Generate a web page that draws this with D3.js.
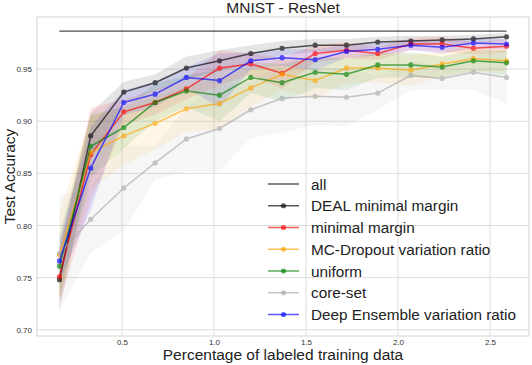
<!DOCTYPE html>
<html>
<head>
<meta charset="utf-8">
<script src="https://cdn.jsdelivr.net/npm/d3@7"></script>
<style>
  body { margin: 0; background: #fff; }
  svg { font-family: "Liberation Sans", Arial, sans-serif; }
</style>
</head>
<body>
<svg id="chart" width="532" height="365"></svg>
<script>
// fraction of labeled training data (%)
const percent = [0.16, 0.33, 0.51, 0.68, 0.85, 1.03, 1.20, 1.37, 1.55, 1.72, 1.89, 2.07, 2.24, 2.41, 2.59];

const allAcc = 0.9865;

const dealMean = [0.748, 0.886, 0.928, 0.937, 0.951, 0.958, 0.965, 0.970, 0.973, 0.973, 0.976, 0.977, 0.978, 0.979, 0.981];
const dealStd = [0.030, 0.022, 0.010, 0.008, 0.011, 0.010, 0.008, 0.007, 0.006, 0.006, 0.005, 0.005, 0.004, 0.004, 0.004];

const marginMean = [0.751, 0.868, 0.909, 0.918, 0.931, 0.951, 0.955, 0.946, 0.965, 0.968, 0.965, 0.974, 0.974, 0.970, 0.972];
const marginStd = [0.025, 0.045, 0.012, 0.012, 0.010, 0.017, 0.010, 0.015, 0.008, 0.008, 0.006, 0.006, 0.007, 0.006, 0.006];

const dropoutMean = [0.772, 0.870, 0.886, 0.898, 0.912, 0.917, 0.932, 0.945, 0.939, 0.951, 0.951, 0.949, 0.955, 0.960, 0.958];
const dropoutStd = [0.040, 0.035, 0.028, 0.025, 0.022, 0.025, 0.018, 0.015, 0.018, 0.014, 0.014, 0.015, 0.012, 0.012, 0.010];

const uniformMean = [0.761, 0.876, 0.894, 0.918, 0.929, 0.925, 0.942, 0.937, 0.947, 0.945, 0.954, 0.954, 0.952, 0.958, 0.956];
const uniformStd = [0.030, 0.030, 0.020, 0.018, 0.015, 0.025, 0.015, 0.018, 0.015, 0.015, 0.012, 0.012, 0.010, 0.010, 0.012];

const coresetMean = [0.773, 0.806, 0.836, 0.860, 0.883, 0.893, 0.911, 0.922, 0.924, 0.923, 0.927, 0.944, 0.941, 0.947, 0.942];
const coresetStd = [0.055, 0.032, 0.041, 0.016, 0.031, 0.041, 0.027, 0.033, 0.027, 0.028, 0.016, 0.014, 0.011, 0.017, 0.025];

const ensembleMean = [0.766, 0.855, 0.918, 0.926, 0.942, 0.939, 0.958, 0.961, 0.959, 0.967, 0.969, 0.973, 0.971, 0.975, 0.974];
const ensembleStd = [0.020, 0.040, 0.012, 0.012, 0.010, 0.026, 0.008, 0.008, 0.010, 0.006, 0.006, 0.005, 0.006, 0.005, 0.005];

const xTicks = [0.5, 1.0, 1.5, 2.0, 2.5];
const yTicks = [0.70, 0.75, 0.80, 0.85, 0.90, 0.95];

const series = [
  { name: 'DEAL minimal margin', mean: dealMean, std: dealStd, color: 'black' },
  { name: 'minimal margin', mean: marginMean, std: marginStd, color: 'red' },
  { name: 'MC-Dropout variation ratio', mean: dropoutMean, std: dropoutStd, color: 'orange' },
  { name: 'uniform', mean: uniformMean, std: uniformStd, color: 'green' },
  { name: 'core-set', mean: coresetMean, std: coresetStd, color: 'darkgray' },
  { name: 'Deep Ensemble variation ratio', mean: ensembleMean, std: ensembleStd, color: 'blue' }
];

const margin = { top: 17, right: 3, bottom: 29, left: 37 };
const width = 532 - margin.left - margin.right;
const height = 365 - margin.top - margin.bottom;

const svg = d3.select('#chart');
const g = svg.append('g')
  .attr('transform', `translate(${margin.left}, ${margin.top})`);

const xScale = d3.scaleLinear()
  .domain([0.038, 2.712])
  .range([0, width]);

const yScale = d3.scaleLinear()
  .domain([0.694, 1.0])
  .range([height, 0]);

// grid
g.selectAll('.xgrid')
  .data(xTicks)
  .join('line')
  .attr('x1', d => xScale(d)).attr('x2', d => xScale(d))
  .attr('y1', 0).attr('y2', height)
  .attr('stroke', '#dddddd').attr('stroke-width', 1);

g.selectAll('.ygrid')
  .data(yTicks)
  .join('line')
  .attr('x1', 0).attr('x2', width)
  .attr('y1', d => yScale(d)).attr('y2', d => yScale(d))
  .attr('stroke', '#dddddd').attr('stroke-width', 1);

g.append('rect')
  .attr('width', width).attr('height', height)
  .attr('fill', 'none').attr('stroke', '#d4d4d4').attr('stroke-width', 1);

// std bands
const area = d3.area()
  .x(d => xScale(d.x))
  .y0(d => yScale(d.m - d.s))
  .y1(d => yScale(d.m + d.s));

series.forEach(s => {
  const pts = percent.map((x, i) => ({ x: x, m: s.mean[i], s: s.std[i] }));
  g.append('path')
    .datum(pts)
    .attr('d', area)
    .attr('fill', s.color)
    .attr('fill-opacity', 0.1);
});

// "all" reference line
g.append('line')
  .attr('x1', xScale(percent[0]))
  .attr('x2', xScale(percent[percent.length - 1]))
  .attr('y1', yScale(allAcc))
  .attr('y2', yScale(allAcc))
  .attr('stroke', 'black')
  .attr('stroke-opacity', 0.7)
  .attr('stroke-width', 1.3);

const line = d3.line()
  .x(d => xScale(d.x))
  .y(d => yScale(d.m));

series.forEach(s => {
  const pts = percent.map((x, i) => ({ x: x, m: s.mean[i] }));
  const sg = g.append('g').attr('opacity', 0.65);
  sg.append('path')
    .datum(pts)
    .attr('d', line)
    .attr('fill', 'none')
    .attr('stroke', s.color)
    .attr('stroke-width', 1.5);
  sg.selectAll('circle')
    .data(pts)
    .join('circle')
    .attr('cx', d => xScale(d.x))
    .attr('cy', d => yScale(d.m))
    .attr('r', 2.6)
    .attr('fill', s.color);
});

// axes
const xAxis = g.append('g')
  .attr('transform', `translate(0, ${height})`)
  .call(d3.axisBottom(xScale).tickValues(xTicks).tickSize(0).tickPadding(3).tickFormat(d3.format('.1f')));
xAxis.select('.domain').remove();
xAxis.selectAll('text').attr('font-size', 8).attr('fill', '#333');

const yAxis = g.append('g')
  .call(d3.axisLeft(yScale).tickValues(yTicks).tickSize(0).tickPadding(5).tickFormat(d3.format('.2f')));
yAxis.select('.domain').remove();
yAxis.selectAll('text').attr('font-size', 8).attr('fill', '#333');

// labels
svg.append('text')
  .attr('x', margin.left + width / 2)
  .attr('y', 13)
  .attr('text-anchor', 'middle')
  .attr('font-size', 15.5)
  .attr('fill', '#222')
  .text('MNIST - ResNet');

svg.append('text')
  .attr('x', margin.left + width / 2)
  .attr('y', 360)
  .attr('text-anchor', 'middle')
  .attr('font-size', 15.5)
  .attr('fill', '#222')
  .text('Percentage of labeled training data');

svg.append('text')
  .attr('transform', `translate(15, ${margin.top + height / 2}) rotate(-90)`)
  .attr('text-anchor', 'middle')
  .attr('font-size', 15.5)
  .attr('fill', '#222')
  .text('Test Accuracy');

// legend
const legendItems = [{ name: 'all', color: 'black', marker: false }]
  .concat(series.map(s => ({ name: s.name, color: s.color, marker: true })));

const legend = svg.append('g').attr('transform', 'translate(268, 184)');
const rows = legend.selectAll('g')
  .data(legendItems)
  .join('g')
  .attr('transform', (d, i) => `translate(0, ${i * 21.75})`);

rows.append('line')
  .attr('x1', 0).attr('x2', 31)
  .attr('stroke', d => d.color)
  .attr('stroke-opacity', 0.65)
  .attr('stroke-width', 1.5);

rows.filter(d => d.marker)
  .append('circle')
  .attr('cx', 15.5).attr('r', 2.6)
  .attr('fill', d => d.color)
  .attr('fill-opacity', 0.65);

rows.append('text')
  .attr('x', 43)
  .attr('y', 5.5)
  .attr('font-size', 15.3)
  .attr('fill', '#222')
  .text(d => d.name);
</script>
</body>
</html>
